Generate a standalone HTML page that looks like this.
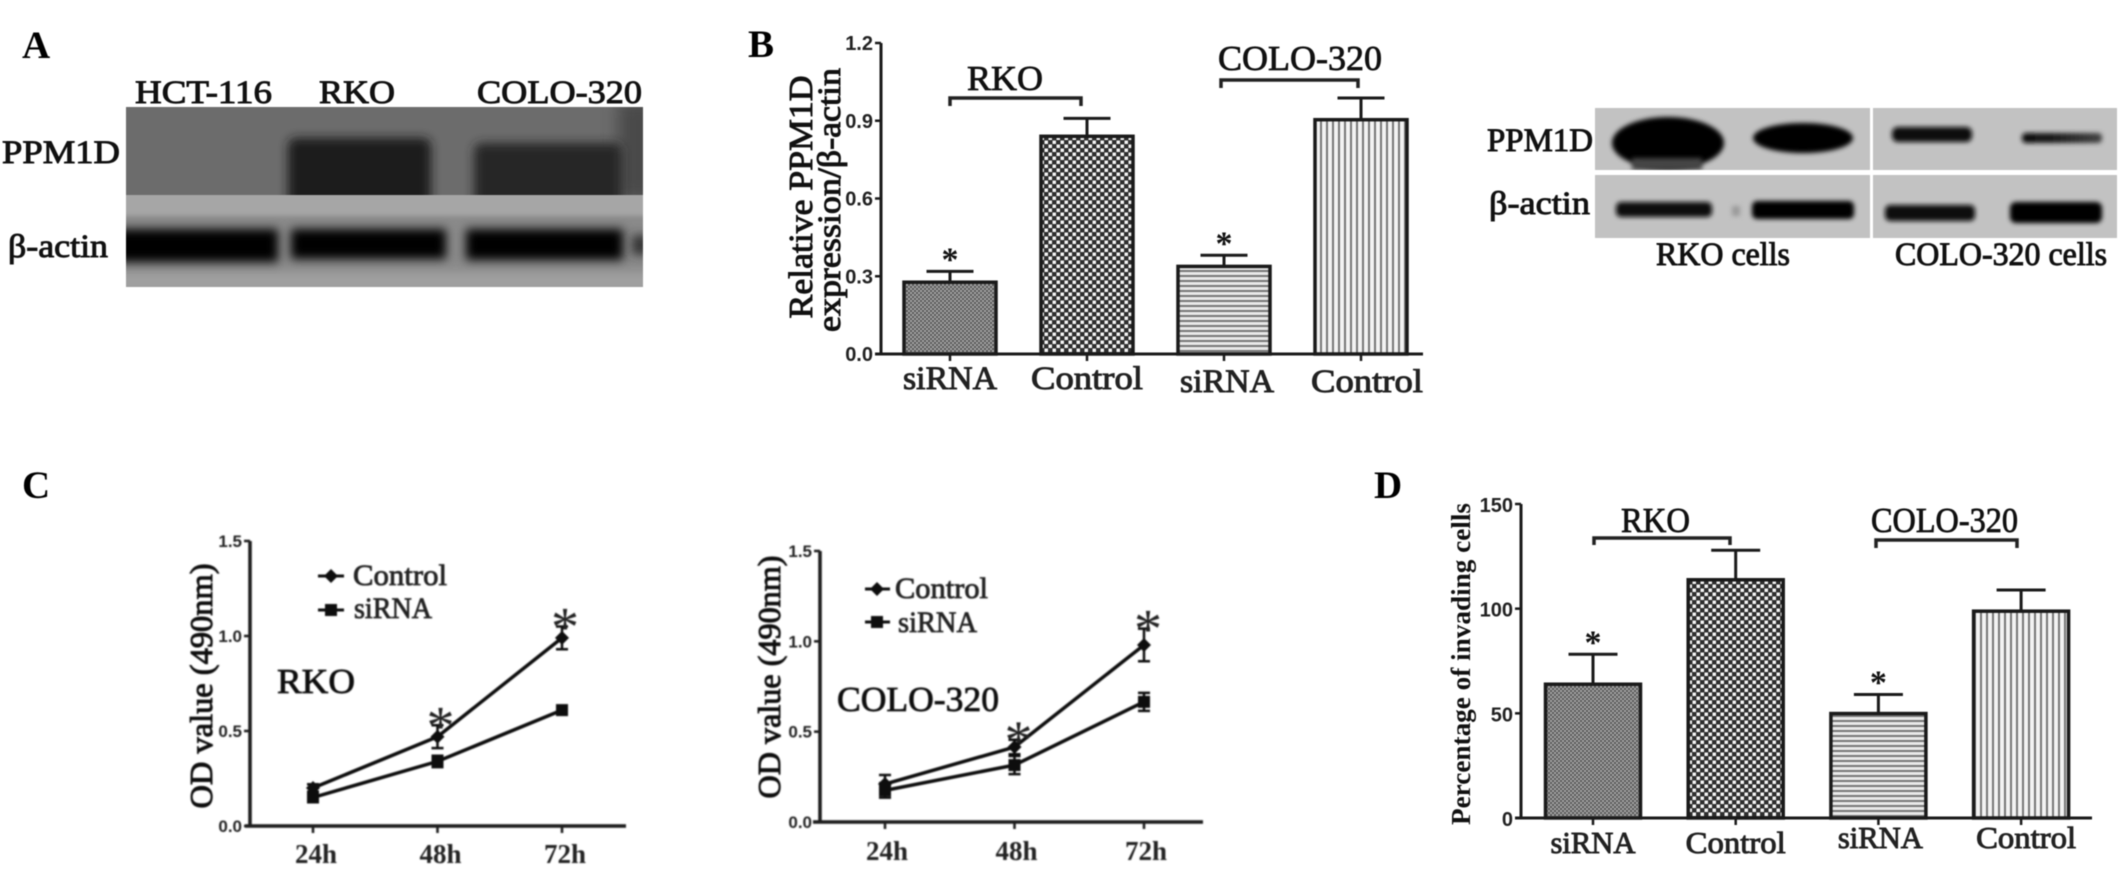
<!DOCTYPE html>
<html lang="en">
<head>
<meta charset="utf-8">
<title>PPM1D knockdown figure</title>
<style>
html,body{margin:0;padding:0;background:#fff;width:2126px;height:880px;overflow:hidden}
svg{display:block;filter:blur(0.45px)}
text{font-family:"Liberation Serif",serif;fill:#111}
.panel{font-weight:bold;font-size:39px;fill:#000}
.lab{font-size:33px;stroke:#111;stroke-width:0.95px}
.reg{font-size:35px;stroke:#111;stroke-width:0.8px}
.tick{font-family:"Liberation Sans",sans-serif;font-weight:bold;font-size:20px;fill:#222}
.ticks{font-family:"Liberation Sans",sans-serif;font-weight:bold;font-size:17px;fill:#222}
.xl{font-size:33px;stroke:#222;stroke-width:0.95px;fill:#222}
.xs{font-size:27px;font-weight:bold;fill:#222}
.leg{font-size:30px;stroke:#222;stroke-width:0.8px;fill:#222}
.star{font-weight:bold;font-size:34px}
.bigstar{font-size:56px;fill:#222}
</style>
</head>
<body>
<svg id="figure" xmlns="http://www.w3.org/2000/svg" width="2126" height="880" viewBox="0 0 2126 880">
<defs>
<filter id="b8" filterUnits="userSpaceOnUse" x="0" y="0" width="2126" height="880"><feGaussianBlur stdDeviation="8"/></filter>
<filter id="b5" filterUnits="userSpaceOnUse" x="0" y="0" width="2126" height="880"><feGaussianBlur stdDeviation="5"/></filter>
<filter id="b3" filterUnits="userSpaceOnUse" x="0" y="0" width="2126" height="880"><feGaussianBlur stdDeviation="2.5"/></filter>
<filter id="soft" filterUnits="userSpaceOnUse" x="0" y="0" width="2126" height="880"><feGaussianBlur stdDeviation="0.6"/></filter>
<clipPath id="clipAtop"><rect x="126" y="107" width="517" height="88"/></clipPath>
<clipPath id="clipAbot"><rect x="126" y="195" width="517" height="92"/></clipPath>
<clipPath id="clipB"><rect x="1595" y="108" width="522" height="130"/></clipPath>
<linearGradient id="fadeBand" x1="0" y1="0" x2="1" y2="0"><stop offset="0" stop-color="#0c0c0c"/><stop offset="0.4" stop-color="#1a1a1a"/><stop offset="1" stop-color="#444"/></linearGradient>
<pattern id="p-fine" patternUnits="userSpaceOnUse" width="4" height="4"><rect width="4" height="4" fill="#a8a8a8"/><rect width="2" height="2" fill="#555"/><rect x="2" y="2" width="2" height="2" fill="#555"/></pattern>
<pattern id="p-check" patternUnits="userSpaceOnUse" width="8" height="8"><rect width="8" height="8" fill="#2e2e2e"/><rect x="0.5" y="0.5" width="3.5" height="3.5" fill="#f4f4f4"/><rect x="4.5" y="4.5" width="3.5" height="3.5" fill="#f4f4f4"/></pattern>
<pattern id="p-h" patternUnits="userSpaceOnUse" width="5" height="5"><rect width="5" height="5" fill="#e8e8e8"/><rect y="0" width="5" height="2" fill="#777"/></pattern>
<pattern id="p-v" patternUnits="userSpaceOnUse" width="6" height="6"><rect width="6" height="6" fill="#f2f2f2"/><rect x="0" width="2" height="6" fill="#777"/></pattern>
</defs>

<text class="panel" x="22" y="58">A</text>
<text class="panel" x="748" y="57">B</text>
<text class="panel" x="22" y="498">C</text>
<text class="panel" x="1374" y="498">D</text>

<!-- Blot A -->
<g>
  <g clip-path="url(#clipAtop)">
    <rect x="126" y="107" width="517" height="88" fill="#6c6c6c"/>
    <rect x="618" y="100" width="40" height="100" fill="#4a4a4a" filter="url(#b8)"/>
    <rect x="288" y="138" width="143" height="85" rx="8" fill="#1e1e1e" filter="url(#b5)"/>
    <rect x="474" y="143" width="148" height="80" rx="8" fill="#272727" filter="url(#b5)"/>
  </g>
  <g clip-path="url(#clipAbot)">
    <rect x="126" y="195" width="517" height="92" fill="#8a8a8a"/>
    <rect x="110" y="190" width="550" height="26" fill="#a6a6a6" filter="url(#b3)"/>
    <rect x="110" y="272" width="550" height="20" fill="#a0a0a0" filter="url(#b5)"/>
    <rect x="110" y="229" width="168" height="33" fill="#050505" filter="url(#b5)"/>
    <rect x="291" y="229" width="155" height="30" fill="#050505" filter="url(#b5)"/>
    <rect x="466" y="229" width="157" height="31" fill="#040404" filter="url(#b5)"/>
    <rect x="632" y="235" width="16" height="20" fill="#333" filter="url(#b5)"/>
  </g>
</g>
<text class="lab" x="135" y="103" textLength="137" lengthAdjust="spacingAndGlyphs">HCT-116</text>
<text class="lab" x="319" y="103" textLength="76" lengthAdjust="spacingAndGlyphs">RKO</text>
<text class="lab" x="477" y="103" textLength="165" lengthAdjust="spacingAndGlyphs">COLO-320</text>
<text class="lab" x="2" y="163" textLength="118" lengthAdjust="spacingAndGlyphs">PPM1D</text>
<text class="lab" x="8" y="257" textLength="100" lengthAdjust="spacingAndGlyphs">β-actin</text>

<!-- Blot B -->
<g clip-path="url(#clipB)">
  <rect x="1595" y="108" width="522" height="130" fill="#c2c2c2"/>
  <ellipse cx="1668" cy="143" rx="56" ry="26" fill="#030303" filter="url(#b3)"/>
  <rect x="1632" y="158" width="70" height="12" fill="#444" filter="url(#b3)"/>
  <ellipse cx="1803" cy="138" rx="50" ry="15" fill="#060606" filter="url(#b3)"/>
  <rect x="1892" y="127" width="80" height="15" rx="6" fill="#080808" filter="url(#b3)"/>
  <rect x="2022" y="133" width="80" height="10" rx="4" fill="url(#fadeBand)" filter="url(#b3)"/>
  <rect x="1616" y="202" width="96" height="15" rx="5" fill="#080808" filter="url(#b3)"/>
  <rect x="1752" y="201" width="102" height="18" rx="5" fill="#040404" filter="url(#b3)"/>
  <rect x="1885" y="205" width="90" height="16" rx="5" fill="#080808" filter="url(#b3)"/>
  <rect x="2010" y="202" width="92" height="21" rx="6" fill="#030303" filter="url(#b3)"/>
  <rect x="1732" y="206" width="8" height="10" fill="#999" filter="url(#b3)"/>
  <rect x="1595" y="170" width="522" height="5" fill="#fff"/>
  <rect x="1870" y="108" width="3" height="130" fill="#fff"/>
</g>
<text class="lab" x="1487" y="151" textLength="106" lengthAdjust="spacingAndGlyphs">PPM1D</text>
<text class="lab" x="1489" y="214" textLength="101" lengthAdjust="spacingAndGlyphs">β-actin</text>
<text class="lab" x="1656" y="265" textLength="134" lengthAdjust="spacingAndGlyphs">RKO cells</text>
<text class="lab" x="1895" y="265" textLength="212" lengthAdjust="spacingAndGlyphs">COLO-320 cells</text>

<!-- Static chart titles -->
<text class="lab" transform="translate(812,197) rotate(-90)" text-anchor="middle" textLength="243" lengthAdjust="spacingAndGlyphs" style="font-size:34px">Relative PPM1D</text>
<text class="lab" transform="translate(840,200) rotate(-90)" text-anchor="middle" textLength="264" lengthAdjust="spacingAndGlyphs">expression/β-actin</text>
<text class="lab" transform="translate(1470,664) rotate(-90)" text-anchor="middle" textLength="322" lengthAdjust="spacingAndGlyphs" style="font-size:27px;font-weight:bold;stroke-width:0">Percentage of invading cells</text>
<text class="reg" x="967" y="90" textLength="76" lengthAdjust="spacingAndGlyphs">RKO</text>
<text class="reg" x="1218" y="70" textLength="164" lengthAdjust="spacingAndGlyphs">COLO-320</text>
<text class="reg" x="1621" y="532" textLength="69" lengthAdjust="spacingAndGlyphs">RKO</text>
<text class="reg" x="1871" y="532" textLength="147" lengthAdjust="spacingAndGlyphs">COLO-320</text>
<path d="M950 106V98H1081V106" fill="none" stroke="#222" stroke-width="3.5"/>
<path d="M1221 88V80H1358V88" fill="none" stroke="#222" stroke-width="3.5"/>
<path d="M1594 545V538H1730V545" fill="none" stroke="#222" stroke-width="3.5"/>
<path d="M1876 548V540H2017V548" fill="none" stroke="#222" stroke-width="3.5"/>

<g id="panel-c" filter="url(#soft)">
  <text class="lab" transform="translate(212,686) rotate(-90)" text-anchor="middle" textLength="245" lengthAdjust="spacingAndGlyphs" style="font-size:32px">OD value (490nm)</text>
  <text class="lab" transform="translate(780,677) rotate(-90)" text-anchor="middle" textLength="243" lengthAdjust="spacingAndGlyphs" style="font-size:32px">OD value (490nm)</text>
  <text class="reg" x="277" y="693" textLength="78" lengthAdjust="spacingAndGlyphs">RKO</text>
  <text class="reg" x="837" y="711" textLength="162" lengthAdjust="spacingAndGlyphs">COLO-320</text>
  <line x1="318" y1="576" x2="344" y2="576" stroke="#111" stroke-width="3"/>
  <path d="M331 569l7 7-7 7-7-7z" fill="#111"/>
  <text class="leg" x="353" y="585" textLength="94" lengthAdjust="spacingAndGlyphs">Control</text>
  <line x1="318" y1="610" x2="344" y2="610" stroke="#111" stroke-width="3"/>
  <rect x="325" y="604" width="12" height="12" fill="#111"/>
  <text class="leg" x="354" y="618" textLength="78" lengthAdjust="spacingAndGlyphs">siRNA</text>
  <line x1="865" y1="589" x2="890" y2="589" stroke="#111" stroke-width="3"/>
  <path d="M877 582l7 7-7 7-7-7z" fill="#111"/>
  <text class="leg" x="895" y="598" textLength="93" lengthAdjust="spacingAndGlyphs">Control</text>
  <line x1="865" y1="622" x2="890" y2="622" stroke="#111" stroke-width="3"/>
  <rect x="871" y="616" width="12" height="12" fill="#111"/>
  <text class="leg" x="898" y="632" textLength="79" lengthAdjust="spacingAndGlyphs">siRNA</text>
</g>

<script>
// ---- chart data ----
const barCategories = ['siRNA', 'Control', 'siRNA', 'Control'];
const barPatterns = ['p-fine', 'p-check', 'p-h', 'p-v'];
const panelBValues = [0.277, 0.84, 0.338, 0.904];
const panelBErrorTops = [0.319, 0.909, 0.381, 0.988];
const panelBSignificant = [true, false, true, false];
const panelBTicks = [0, 0.3, 0.6, 0.9, 1.2];
const panelDValues = [63.9, 113.8, 49.9, 98.8];
const panelDErrorTops = [78.2, 127.9, 59, 108.9];
const panelDSignificant = [true, false, true, false];
const panelDTicks = [0, 50, 100, 150];
const timeLabels = ['24h', '48h', '72h'];
const odTicks = [0, 0.5, 1, 1.5];
const rkoControl = [0.2, 0.47, 0.99];
const rkoControlErr = [0.02, 0.06, 0.06];
const rkoSirna = [0.15, 0.34, 0.61];
const rkoSirnaErr = [0.02, 0.03, 0.02];
const rkoStars = [false, true, true];
const coloControl = [0.21, 0.415, 0.98];
const coloControlErr = [0.05, 0.04, 0.09];
const coloSirna = [0.175, 0.315, 0.665];
const coloSirnaErr = [0.04, 0.05, 0.05];
const coloStars = [false, true, true];

// ---- drawing helpers ----
const NS = 'http://www.w3.org/2000/svg';
const svg = document.getElementById('figure');
const panelC = document.getElementById('panel-c');
function mk(tag, parent, attrs, txt) {
  const el = document.createElementNS(NS, tag);
  for (const k in attrs) el.setAttribute(k, attrs[k]);
  if (txt !== undefined) el.textContent = txt;
  parent.appendChild(el);
  return el;
}
function linear(d0, d1, r0, r1) { return v => r0 + (v - d0) * (r1 - r0) / (d1 - d0); }
const STROKE = '#1a1a1a';

function drawAxes(parent, prefix, cfg, ticks, yScale, fmt, xCenters) {
  const ya = mk('line', parent, {x1: cfg.axisX, x2: cfg.axisX, y1: cfg.yTop, y2: cfg.yBase + 1, stroke: STROKE, 'stroke-width': cfg.axisW});
  
  
  const xa = mk('line', parent, {x1: cfg.xStart, x2: cfg.xEnd, y1: cfg.yBase, y2: cfg.yBase, stroke: STROKE, 'stroke-width': cfg.axisW});
  
  
  ticks.forEach(t => {
    const y = yScale(t);
    const tm = mk('line', parent, {x1: cfg.axisX - 6, x2: cfg.axisX, y1: y, y2: y, stroke: STROKE, 'stroke-width': 2.5});
    
    
    const tl = mk('text', parent, {x: cfg.axisX - 8, y: y + cfg.tickDy, 'text-anchor': 'end', class: cfg.tickClass}, fmt(t));
    
    
  });
  xCenters.forEach(x => {
    const tm = mk('line', parent, {x1: x, x2: x, y1: cfg.yBase, y2: cfg.yBase + 7, stroke: STROKE, 'stroke-width': 2.5});
    
    
  });
}

function drawBarChart(prefix, cfg, values, errTops, sig, ticks, fmt) {
  const yScale = linear(0, ticks[ticks.length - 1], cfg.yBase, cfg.yTop);
  const centers = values.map((_, i) => cfg.x0 + i * cfg.step);
  drawAxes(svg, prefix, cfg, ticks, yScale, fmt, centers);
  values.forEach((v, i) => {
    const cx = centers[i];
    const top = yScale(v);
    const et = yScale(errTops[i]);
    const stem = mk('line', svg, {x1: cx, x2: cx, y1: et, y2: top, stroke: STROKE, 'stroke-width': 3});
    
    
    const cap = mk('line', svg, {x1: cx - cfg.capW / 2, x2: cx + cfg.capW / 2, y1: et, y2: et, stroke: STROKE, 'stroke-width': 3});
    
    
    const bar = mk('rect', svg, {x: cx - cfg.barW / 2, y: top, width: cfg.barW, height: cfg.yBase - top, fill: 'url(#' + barPatterns[i] + ')', stroke: STROKE, 'stroke-width': 3.5});
    
    
    if (sig[i]) {
      const s = mk('text', svg, {x: cx, y: et - cfg.starGap, 'text-anchor': 'middle', class: 'star'}, '*');
      
      
    }
    const lab = mk('text', svg, {x: cx + cfg.labelDx(i), y: cfg.labelY(i), 'text-anchor': 'middle', class: 'xl', style: 'font-size:' + cfg.labelSize + 'px', textLength: barCategories[i] === 'siRNA' ? cfg.sirnaW : cfg.controlW, lengthAdjust: 'spacingAndGlyphs'}, barCategories[i]);
    
    
  });
}

function drawSeries(parent, prefix, name, xs, yScale, values, errs, marker) {
  const pts = values.map((v, i) => xs[i] + ',' + yScale(v)).join(' ');
  const pl = mk('polyline', parent, {points: pts, fill: 'none', stroke: '#111', 'stroke-width': 3.5});
  
  
  values.forEach((v, i) => {
    const x = xs[i];
    const y = yScale(v);
    const up = yScale(v + errs[i]);
    const dn = yScale(v - errs[i]);
    const eb = mk('path', parent, {d: 'M' + (x - 6) + ' ' + up + 'H' + (x + 6) + 'M' + x + ' ' + up + 'V' + dn + 'M' + (x - 6) + ' ' + dn + 'H' + (x + 6), fill: 'none', stroke: '#111', 'stroke-width': 2.5});
    
    
    let m;
    if (marker === 'diamond') {
      m = mk('path', parent, {d: 'M' + x + ' ' + (y - 7) + 'l7 7-7 7-7-7z', fill: '#111'});
    } else {
      m = mk('rect', parent, {x: x - 6, y: y - 6, width: 12, height: 12, fill: '#111'});
    }
    
    
  });
}

function drawLineChart(prefix, cfg, control, controlErr, sirna, sirnaErr, stars) {
  const yScale = linear(0, odTicks[odTicks.length - 1], cfg.yBase, cfg.yTop);
  const xs = timeLabels.map((_, i) => cfg.x0 + i * cfg.step);
  drawAxes(panelC, prefix, cfg, odTicks, yScale, t => t.toFixed(1), xs);
  drawSeries(panelC, prefix, 'control', xs, yScale, control, controlErr, 'diamond');
  drawSeries(panelC, prefix, 'sirna', xs, yScale, sirna, sirnaErr, 'square');
  timeLabels.forEach((t, i) => {
    const lab = mk('text', panelC, {x: xs[i] + cfg.labelDx, y: cfg.labelY, 'text-anchor': 'middle', class: 'xs', textLength: 42, lengthAdjust: 'spacingAndGlyphs'}, t);
    
    
    if (stars[i]) {
      const s = mk('text', panelC, {x: xs[i] + cfg.starDx, y: yScale(control[i] + controlErr[i]) + 19, 'text-anchor': 'middle', class: 'bigstar'}, '*');
      
      
    }
  });
}

// ---- panels ----
drawBarChart('panel-b', {
  axisX: 881, axisW: 3, yTop: 43, yBase: 354, xStart: 875, xEnd: 1423, tickDy: 7, tickClass: 'tick',
  x0: 950, step: 137, barW: 92, capW: 47, starGap: 1,
  labelDx: i => (i === 3 ? 6 : i === 2 ? 3 : 0), labelY: i => (i < 2 ? 389 : 392), sirnaW: 94, controlW: 112, labelSize: 33
}, panelBValues, panelBErrorTops, panelBSignificant, panelBTicks, t => t.toFixed(1));

drawBarChart('panel-d', {
  axisX: 1521, axisW: 3, yTop: 504, yBase: 818, xStart: 1515, xEnd: 2092, tickDy: 8, tickClass: 'tick',
  x0: 1593, step: 142.7, barW: 95, capW: 49, starGap: 1,
  labelDx: i => (i === 3 ? 5 : i === 2 ? 2 : 0), labelY: i => (i < 2 ? 853 : 848), sirnaW: 85, controlW: 100, labelSize: 31
}, panelDValues, panelDErrorTops, panelDSignificant, panelDTicks, t => String(t));

drawLineChart('panel-c-rko', {
  axisX: 250, axisW: 3.5, yTop: 541, yBase: 826, xStart: 245, xEnd: 626, tickDy: 6, tickClass: 'ticks',
  x0: 313, step: 124.5, labelDx: 3, labelY: 863, starDx: 3
}, rkoControl, rkoControlErr, rkoSirna, rkoSirnaErr, rkoStars);

drawLineChart('panel-c-colo', {
  axisX: 820, axisW: 3.5, yTop: 551, yBase: 822, xStart: 813, xEnd: 1203, tickDy: 6, tickClass: 'ticks',
  x0: 885, step: 129.5, labelDx: 2, labelY: 860, starDx: 4
}, coloControl, coloControlErr, coloSirna, coloSirnaErr, coloStars);
</script>
</svg>
</body>
</html>
